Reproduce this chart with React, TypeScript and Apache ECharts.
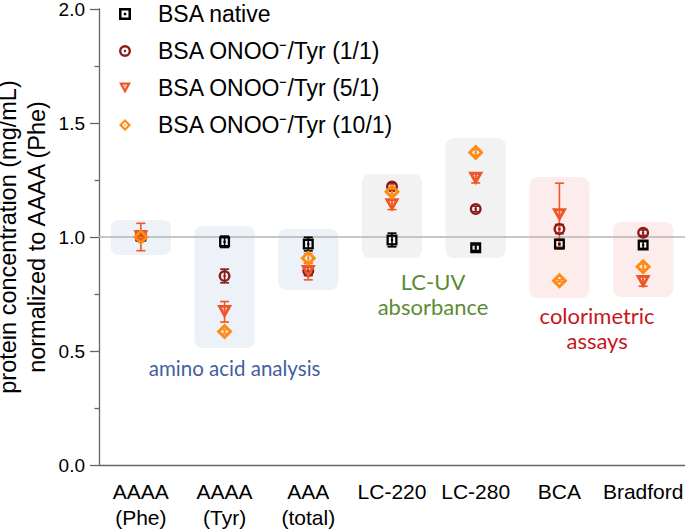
import React, { useEffect, useRef } from 'react';
import * as echarts from 'echarts';

// ---------- data ----------
const categories = ['AAAA\n(Phe)', 'AAAA\n(Tyr)', 'AAA\n(total)', 'LC-220', 'LC-280', 'BCA', 'Bradford'];
const seriesNames = ['BSA native', 'BSA ONOO⁻/Tyr (1/1)', 'BSA ONOO⁻/Tyr (5/1)', 'BSA ONOO⁻/Tyr (10/1)'];

const nativeValues = [1.004, 0.979, 0.969, 0.987, 0.953, 0.969, 0.965];
const nativeErrors = [0.02, 0.025, 0.03, 0.03, 0.012, 0.02, 0.015];
const ratio1Values = [1.0, 0.829, 0.851, 1.221, 1.123, 1.035, 1.019];
const ratio1Errors = [0.01, 0.03, 0.02, 0.012, 0.012, 0.02, 0.012];
const ratio5Values = [1.0, 0.672, 0.848, 1.14, 1.257, 1.096, 0.804];
const ratio5Errors = [0.06, 0.045, 0.036, 0.02, 0.02, 0.14, 0.02];
const ratio10Values = [1.0, 0.585, 0.907, 1.199, 1.371, 0.808, 0.87];
const ratio10Errors = [0.01, 0.01, 0.02, 0.012, 0.012, 0.005, 0.012];

const referenceValue = 1.0;

// shaded group boxes (value range per category)
const boxLow = [0.921, 0.513, 0.768, 0.908, 0.908, 0.732, 0.737];
const boxHigh = [1.075, 1.048, 1.035, 1.276, 1.434, 1.263, 1.066];
const boxGroup = [0, 0, 0, 1, 1, 2, 2];

// group annotations (x in category units, y in data units)
const groupLabels = ['amino acid analysis', 'LC-UV\nabsorbance', 'colorimetric\nassays'];
const groupLabelX = [1.12, 3.49, 5.45];
const groupLabelY = [0.425, 0.75, 0.6];

// ---------- styles ----------
const FONT = 'Liberation Sans, Arial, sans-serif';
const seriesColors = ['#000000', '#8B1A1A', '#EF5526', '#FF8A14'];
const boxColors = ['#EDF2F8', '#F2F2F2', '#FCEDEC'];
const groupColors = ['#3F5FA0', '#5B8C32', '#C8161D'];
const groupFontSizes = [20.5, 22, 22];
const AXIS_COLOR = '#666';

const SQUARE = 'path://M0,0H100V100H0Z M21,21V79H79V21Z M40,40H60V60H40Z';
const CIRCLE =
  'path://M50,0A50,50,0,1,1,50,100A50,50,0,1,1,50,0Z M50,20A30,30,0,1,0,50,80A30,30,0,1,0,50,20Z M50,40A10,10,0,1,1,50,60A10,10,0,1,1,50,40Z';
const TRIANGLE = 'path://M0,0L100,0L50,92Z M32,19L50,52.1L68,19Z M44,25H56V36H44Z';
const DIAMOND = 'path://M50,0L100,50L50,100L0,50Z M50,25.5L25.5,50L50,74.5L74.5,50Z M50,41L59,50L50,59L41,50Z';

const symbols = [SQUARE, CIRCLE, TRIANGLE, DIAMOND];
const symbolSizes: any[] = [11, 12, [15, 13.5], 16];

const allValues = [nativeValues, ratio1Values, ratio5Values, ratio10Values];
const allErrors = [nativeErrors, ratio1Errors, ratio5Errors, ratio10Errors];

function buildOption() {
  const series: any[] = [];

  series.push({
    type: 'custom',
    name: 'boxes',
    z: 1,
    silent: true,
    data: categories.map((_, i) => [i, boxLow[i], boxHigh[i]]),
    encode: { x: 0, y: [1, 2] },
    renderItem: (params: any, api: any) => {
      const i = api.value(0);
      const top = api.coord([i, api.value(2)]);
      const bottom = api.coord([i, api.value(1)]);
      const w = api.size([1, 0])[0] * 0.72;
      return {
        type: 'rect',
        shape: { x: top[0] - w / 2, y: top[1], width: w, height: bottom[1] - top[1], r: 8 },
        style: { fill: boxColors[boxGroup[params.dataIndex]] },
      };
    },
  });

  series.push({
    type: 'custom',
    name: 'groupLabels',
    z: 1,
    silent: true,
    data: groupLabels.map((_, i) => [groupLabelX[i], groupLabelY[i]]),
    encode: { x: 0, y: 1 },
    renderItem: (params: any, api: any) => {
      const xv = api.value(0);
      const base = api.coord([0, api.value(1)]);
      const band = api.size([1, 0])[0];
      return {
        type: 'text',
        x: base[0] + xv * band,
        y: base[1],
        style: {
          text: groupLabels[params.dataIndex],
          fill: groupColors[params.dataIndex],
          fontSize: groupFontSizes[params.dataIndex],
          fontFamily: 'Lato, sans-serif',
          align: 'center',
          verticalAlign: 'middle',
          lineHeight: 25,
        },
      };
    },
  });

  seriesNames.forEach((name, s) => {
    const color = seriesColors[s];
    series.push({
      type: 'custom',
      name: name + ' error',
      z: 2,
      silent: true,
      data: allValues[s].map((v, i) => [i, v, allErrors[s][i]]),
      encode: { x: 0, y: 1 },
      renderItem: (params: any, api: any) => {
        const x = api.value(0);
        const v = api.value(1);
        const e = api.value(2);
        const hi = api.coord([x, v + e]);
        const lo = api.coord([x, v - e]);
        const c = 4.5;
        const st = { stroke: color, lineWidth: 1.6 };
        return {
          type: 'group',
          children: [
            { type: 'line', shape: { x1: hi[0], y1: hi[1], x2: lo[0], y2: lo[1] }, style: st },
            { type: 'line', shape: { x1: hi[0] - c, y1: hi[1], x2: hi[0] + c, y2: hi[1] }, style: st },
            { type: 'line', shape: { x1: lo[0] - c, y1: lo[1], x2: lo[0] + c, y2: lo[1] }, style: st },
          ],
        };
      },
    });
  });

  seriesNames.forEach((name, s) => {
    const item: any = {
      type: 'scatter',
      name,
      z: 3,
      symbol: symbols[s],
      symbolSize: symbolSizes[s],
      itemStyle: { color: seriesColors[s], opacity: 1 },
      emphasis: { disabled: true },
      data: allValues[s].map((v, i) => [i, v]),
    };
    if (s === 0) {
      item.markLine = {
        silent: true,
        z: 2,
        symbol: ['none', 'none'],
        label: { show: false },
        lineStyle: { color: '#b5b5b5', width: 1.5, type: 'solid' },
        data: [{ yAxis: referenceValue }],
      };
    }
    series.push(item);
  });

  return {
    animation: false,
    backgroundColor: '#fff',
    grid: { left: 99, right: 0, top: 9, bottom: 64, containLabel: false, outerBoundsMode: 'none' },
    legend: {
      orient: 'vertical',
      left: 119,
      top: 2,
      padding: 0,
      itemWidth: 12,
      itemHeight: 12,
      itemGap: 13,
      selectedMode: false,
      data: seriesNames.map((n) => ({ name: n })),
      textStyle: { fontFamily: FONT, fontSize: 23, color: '#000', lineHeight: 24, padding: [0, 0, 0, 22] },
    },
    xAxis: [
      {
        type: 'category',
        data: categories,
        boundaryGap: true,
        axisLine: { lineStyle: { color: AXIS_COLOR, width: 1.3 } },
        axisTick: { interval: 0, length: 3.5, lineStyle: { color: AXIS_COLOR, width: 1.3 } },
        axisLabel: { interval: 0, fontSize: 21, lineHeight: 26, margin: 13, color: '#000', fontFamily: FONT },
        splitLine: { show: false },
      },
      {
        type: 'category',
        data: categories,
        position: 'bottom',
        boundaryGap: true,
        axisLine: { show: false },
        axisTick: { interval: 0, alignWithLabel: true, length: 7, lineStyle: { color: AXIS_COLOR, width: 1.3 } },
        axisLabel: { show: false },
        splitLine: { show: false },
      },
    ],
    yAxis: {
      type: 'value',
      min: 0,
      max: 2,
      interval: 0.5,
      name: 'protein concentration (mg/mL)\nnormalized to AAAA (Phe)',
      nameLocation: 'middle',
      nameRotate: 90,
      nameGap: 48,
      nameMoveOverlap: false,
      nameTextStyle: { fontFamily: FONT, fontSize: 23.5, lineHeight: 29, color: '#000' },
      axisLine: { show: true, lineStyle: { color: AXIS_COLOR, width: 1.3 } },
      axisTick: { show: true, length: 9, lineStyle: { color: AXIS_COLOR, width: 1.3 } },
      minorTick: { show: true, splitNumber: 2, length: 4.5, lineStyle: { color: AXIS_COLOR, width: 1.3 } },
      splitLine: { show: false },
      minorSplitLine: { show: false },
      axisLabel: {
        formatter: (v: number) => v.toFixed(1),
        fontSize: 19,
        margin: 14,
        color: '#000',
        fontFamily: FONT,
      },
    },
    series,
  };
}

export default function App() {
  const ref = useRef<HTMLDivElement>(null);
  useEffect(() => {
    const chart = echarts.init(ref.current as HTMLDivElement, undefined, { renderer: 'svg' });
    chart.setOption(buildOption() as any);
    return () => chart.dispose();
  }, []);
  return (
    <div
      ref={ref}
      style={{ position: 'fixed', left: 0, top: 0, width: 685, height: 529, background: '#fff' }}
    />
  );
}
